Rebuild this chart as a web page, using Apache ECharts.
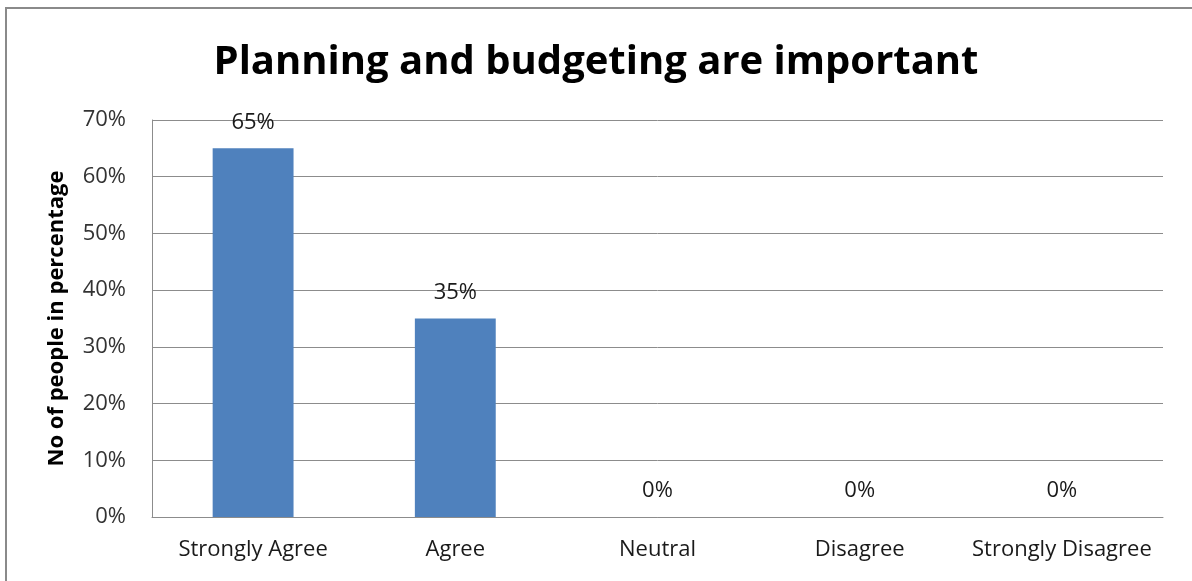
<!DOCTYPE html>
<html>
<head>
<meta charset="utf-8">
<script src="https://cdn.jsdelivr.net/npm/echarts@6/dist/echarts.min.js"></script>
<style>
  html, body { margin: 0; padding: 0; background: #ffffff; }
  #chart { width: 1192px; height: 581px; }
</style>
</head>
<body>
<div id="chart"></div>
<script>
// Survey responses, share of people per answer
const categories = ['Strongly Agree', 'Agree', 'Neutral', 'Disagree', 'Strongly Disagree'];
const shares = [65, 35, 0, 0, 0];
const yTicks = { min: 0, max: 70, interval: 10 };

const chart = echarts.init(document.getElementById('chart'));
const font = '"Open Sans", "Noto Sans", sans-serif';

chart.setOption({
  animation: false,
  backgroundColor: '#ffffff',
  title: {
    text: 'Planning and budgeting are important',
    left: 'center',
    top: 38,
    textStyle: { fontFamily: font, fontSize: 40, fontWeight: 'bold', color: '#000000' }
  },
  graphic: [{
    type: 'polyline',
    shape: { points: [[6, 581], [6, 8], [1192, 8]] },
    style: { stroke: '#8a8a8a', lineWidth: 2, fill: null }
  }],
  grid: { left: 152, right: 29, top: 120, bottom: 64 },
  xAxis: {
    type: 'category',
    data: categories,
    axisLine: { show: true, lineStyle: { color: '#8c8c8c', width: 1 } },
    axisTick: { show: false },
    axisLabel: { interval: 0, hideOverlap: false, fontFamily: font, fontSize: 22, color: '#1a1a1a', margin: 22 }
  },
  yAxis: {
    type: 'value',
    min: yTicks.min,
    max: yTicks.max,
    interval: yTicks.interval,
    name: 'No of people in percentage',
    nameLocation: 'middle',
    nameGap: 84,
    nameRotate: 90,
    nameTextStyle: { fontFamily: font, fontSize: 22, fontWeight: 'bold', color: '#000000' },
    axisLine: { show: true, lineStyle: { color: '#8c8c8c', width: 1 } },
    axisTick: { show: false },
    splitLine: { show: true, lineStyle: { color: '#8c8c8c', width: 1 } },
    axisLabel: { fontFamily: font, fontSize: 22, color: '#333333', margin: 26, formatter: '{value}%' }
  },
  series: [{
    type: 'bar',
    data: shares,
    barWidth: '40%',
    itemStyle: { color: '#4f81bd' },
    label: {
      show: true,
      position: 'top',
      distance: 15,
      fontFamily: font,
      fontSize: 22,
      color: '#1a1a1a',
      formatter: '{c}%'
    }
  }]
});
</script>
</body>
</html>
